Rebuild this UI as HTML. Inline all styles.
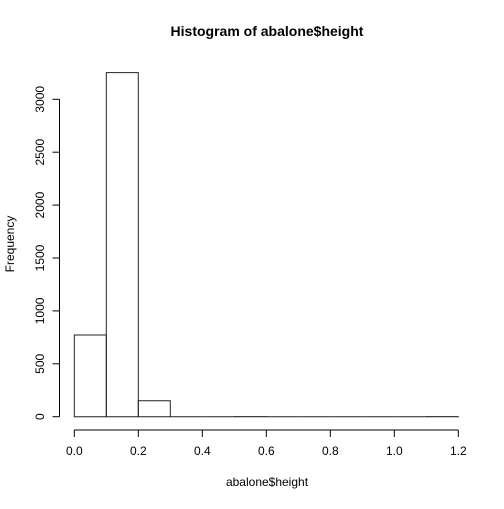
<!DOCTYPE html>
<html><head><meta charset="utf-8"><style>
body{margin:0;background:#fff}
svg text{font-family:"Liberation Sans",Arial,sans-serif;fill:#000}
</style></head><body>
<svg id="chart" width="504" height="504" viewBox="0 0 504 504" xmlns="http://www.w3.org/2000/svg">
<text x="267" y="36" font-size="14" font-weight="bold" text-anchor="middle">Histogram of abalone$height</text>
<text x="267" y="486" font-size="12" text-anchor="middle">abalone$height</text>
<text transform="translate(14,244) rotate(-90)" font-size="12" text-anchor="middle">Frequency</text>
<g id="bars"></g><g id="xaxis"></g><g id="yaxis"></g>
</svg>
<script>
const binEdges=[0,0.1,0.2,0.3,0.4,0.5,0.6,0.7,0.8,0.9,1.0,1.1,1.2];
const counts=[772,3252,151,0,0,1,0,0,0,0,0,1];
const xTicks=[0,0.2,0.4,0.6,0.8,1.0,1.2];
const xTickLabels=["0.0","0.2","0.4","0.6","0.8","1.0","1.2"];
const yTicks=[0,500,1000,1500,2000,2500,3000];
const yTickLabels=["0","500","1000","1500","2000","2500","3000"];
const NS="http://www.w3.org/2000/svg";
const x=v=>74.3+v*320;
const y=v=>416.7-v*0.1058;
function mk(tag,attrs,parent){const e=document.createElementNS(NS,tag);for(const k in attrs)e.setAttribute(k,attrs[k]);parent.appendChild(e);return e;}
const bars=document.getElementById('bars');
counts.forEach((c,i)=>{
  const x0=x(binEdges[i]),x1=x(binEdges[i+1]),y0=y(0),y1=y(c);
  const p=mk('path',{d:`M${x0},${y0}L${x0},${y1}L${x1},${y1}L${x1},${y0}Z`,fill:'none',stroke:'#222','stroke-width':1},bars);
  
  
});
const xa=document.getElementById('xaxis');


mk('line',{x1:x(xTicks[0]),x2:x(xTicks[xTicks.length-1]),y1:430,y2:430,stroke:'#000'},xa);
xTicks.forEach((t,i)=>{
  mk('line',{x1:x(t),x2:x(t),y1:430,y2:437,stroke:'#000'},xa);
  const tx=mk('text',{x:x(t),y:455,'font-size':12,'text-anchor':'middle'},xa);
  tx.textContent=xTickLabels[i];
  
  
});
const ya=document.getElementById('yaxis');


mk('line',{x1:59.5,x2:59.5,y1:y(yTicks[0]),y2:y(yTicks[yTicks.length-1]),stroke:'#000'},ya);
yTicks.forEach((t,i)=>{
  mk('line',{x1:52.5,x2:59.5,y1:y(t),y2:y(t),stroke:'#000'},ya);
  const tx=mk('text',{transform:`translate(44,${y(t)}) rotate(-90)`,'font-size':12,'text-anchor':'middle'},ya);
  tx.textContent=yTickLabels[i];
  
  
});
</script>
</body></html>
